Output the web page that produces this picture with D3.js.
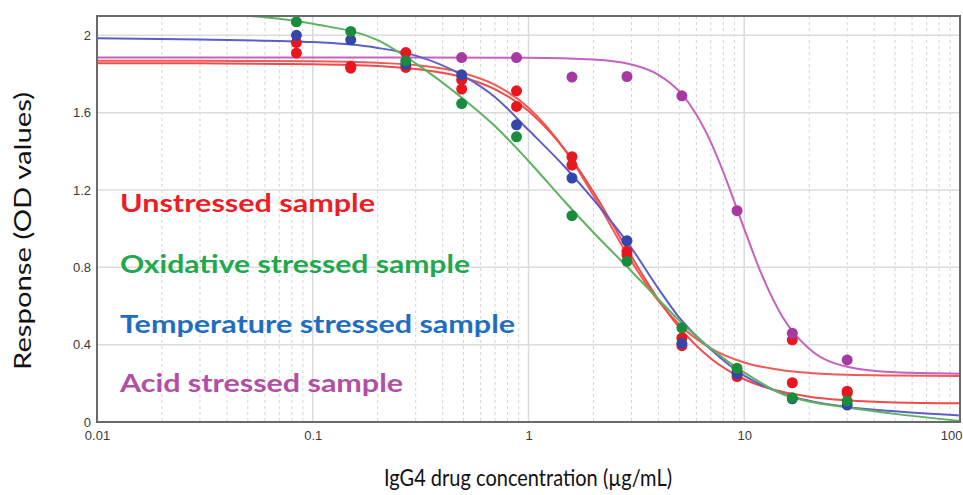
<!DOCTYPE html>
<html><head><meta charset="utf-8">
<script src="https://cdn.jsdelivr.net/npm/d3@7"></script>
<style>
html,body{margin:0;padding:0;background:#fff;}
svg{display:block;}
</style></head>
<body>
<svg id="chart" width="963" height="495"></svg>
<script>
// ---- Data ----
const concentrations = [0.084, 0.15, 0.27, 0.49, 0.88, 1.59, 2.86, 5.14, 9.26, 16.7, 30];
const unstressedRep1 = [1.963, 1.84, 1.911, 1.77, 1.713, 1.372, 0.883, 0.435, 0.26, 0.425, 0.159];
const unstressedRep2 = [1.908, 1.83, 1.834, 1.722, 1.632, 1.329, 0.865, 0.395, 0.235, 0.203, 0.15];
const oxidativePts   = [2.07, 2.02, 1.868, 1.647, 1.475, 1.067, 0.831, 0.487, 0.278, 0.125, 0.108];
const temperaturePts = [2.0, 1.977, 1.85, 1.796, 1.537, 1.262, 0.938, 0.407, 0.249, 0.12, 0.088];
const acidConc       = [0.49, 0.88, 1.59, 2.86, 5.14, 9.26, 16.7, 30];
const acidPts        = [1.885, 1.885, 1.784, 1.787, 1.687, 1.093, 0.459, 0.321];

// fitted curves
const fitConc      = [0.01, 0.03, 0.1, 0.2, 0.3, 0.5, 0.7, 1, 1.5, 2, 3, 4, 5, 7, 10, 15, 20, 30, 50, 100];
const unstressedFitA = [1.868, 1.868, 1.866, 1.858, 1.846, 1.804, 1.744, 1.626, 1.396, 1.171, 0.831, 0.626, 0.504, 0.381, 0.308, 0.268, 0.254, 0.244, 0.240, 0.238];
const unstressedFitB = [1.855, 1.855, 1.851, 1.842, 1.826, 1.782, 1.721, 1.609, 1.397, 1.190, 0.856, 0.634, 0.489, 0.328, 0.221, 0.156, 0.131, 0.112, 0.101, 0.097];
const oxidativeFit   = [2.16, 2.12, 2.06, 1.975, 1.855, 1.67, 1.53, 1.35, 1.13, 0.98, 0.78, 0.635, 0.525, 0.38, 0.256, 0.145, 0.106, 0.075, 0.042, 0.005];
const temperatureFit = [1.985, 1.978, 1.965, 1.935, 1.895, 1.79, 1.68, 1.51, 1.31, 1.15, 0.90, 0.69, 0.54, 0.375, 0.24, 0.148, 0.11, 0.078, 0.055, 0.034];
const acidFitConc    = [0.01, 0.1, 1, 2, 3, 4, 5, 6, 7, 8, 10, 12, 15, 20, 30, 50, 100];
const acidFit        = [1.885, 1.885, 1.884, 1.875, 1.849, 1.796, 1.710, 1.591, 1.448, 1.293, 0.999, 0.767, 0.546, 0.379, 0.286, 0.257, 0.25];

const yTicks = [0, 0.4, 0.8, 1.2, 1.6, 2];
const yTickLabels = ["0", "0.4", "0.8", "1.2", "1.6", "2"];
const xTicks = [0.01, 0.1, 1, 10, 100];
const xTickLabels = ["0.01", "0.1", "1", "10", "100"];
const legendLabels = ["Unstressed sample", "Oxidative stressed sample", "Temperature stressed sample", "Acid stressed sample"];

// ---- Layout ----
const svg = d3.select("#chart");
const L = 97, R = 960, T = 16, B = 422;
const x = d3.scaleLog().domain([0.01, 100]).range([L, R]);
const y = d3.scaleLinear().domain([0, 2.1]).range([B, T]);

svg.append("rect").attr("width", 963).attr("height", 495).attr("fill", "#fff");

svg.append("defs").append("clipPath").attr("id", "plotclip")
  .append("rect").attr("x", L).attr("y", T).attr("width", R - L).attr("height", B - T);

// grid
const grid = svg.append("g");
const minor = [];
[0.01, 0.1, 1, 10].forEach(d => { for (let k = 2; k <= 9; k++) minor.push(d * k); });
grid.selectAll(".minor").data(minor).join("line")
  .attr("x1", d => x(d)).attr("x2", d => x(d)).attr("y1", T).attr("y2", B)
  .attr("stroke", "#cfd6da").attr("stroke-width", 1).attr("stroke-dasharray", "3,3");
grid.selectAll(".major").data([0.1, 1, 10]).join("line")
  .attr("x1", d => x(d)).attr("x2", d => x(d)).attr("y1", T).attr("y2", B)
  .attr("stroke", "#d6dcdf").attr("stroke-width", 1.5);
grid.selectAll(".h").data(yTicks.slice(1)).join("line")
  .attr("x1", L).attr("x2", R).attr("y1", d => y(d)).attr("y2", d => y(d))
  .attr("stroke", "#dcdcdc").attr("stroke-width", 1.5);

// curves
const plot = svg.append("g").attr("clip-path", "url(#plotclip)");
const line = d3.line().x(d => x(d[0])).y(d => y(d[1])).curve(d3.curveMonotoneX);
const curves = [
  {xs: fitConc, ys: unstressedFitA, c: "#f25a55"},
  {xs: fitConc, ys: unstressedFitB, c: "#ef4b48"},
  {xs: acidFitConc, ys: acidFit, c: "#c462c0"},
  {xs: fitConc, ys: temperatureFit, c: "#5b5fc9"},
  {xs: fitConc, ys: oxidativeFit, c: "#5cb35f"}
];
curves.forEach(cv => {
  plot.append("path").datum(d3.zip(cv.xs, cv.ys)).attr("d", line)
    .attr("fill", "none").attr("stroke", cv.c).attr("stroke-width", 2);
});

// points
const pointSets = [
  {xs: concentrations, ys: unstressedRep1, c: "#e8161e"},
  {xs: concentrations, ys: unstressedRep2, c: "#e8161e"},
  {xs: acidConc, ys: acidPts, c: "#a63aa2"},
  {xs: concentrations, ys: temperaturePts, c: "#3446a8"},
  {xs: concentrations, ys: oxidativePts, c: "#1b8b3d"}
];
pointSets.forEach(ps => {
  plot.append("g").selectAll("circle").data(d3.zip(ps.xs, ps.ys)).join("circle")
    .attr("cx", d => x(d[0])).attr("cy", d => y(d[1])).attr("r", 5.5).attr("fill", ps.c);
});

// frame
svg.append("rect").attr("x", L).attr("y", T).attr("width", R - L).attr("height", B - T)
  .attr("fill", "none").attr("stroke", "#6a6a6a").attr("stroke-width", 2);

// axes
const yAxis = svg.append("g").attr("transform", `translate(${L - 6},0)`)
  .call(d3.axisLeft(y).tickValues(yTicks).tickSize(0).tickPadding(0)
    .tickFormat((d, i) => yTickLabels[i]));
yAxis.select(".domain").remove();
yAxis.selectAll("text").attr("font-family", "Liberation Sans, Arial, sans-serif")
  .attr("font-size", 13).attr("fill", "#3a3a3a");

const xAxis = svg.append("g").attr("transform", `translate(0,${B})`)
  .call(d3.axisBottom(x).tickValues(xTicks).tickSize(0).tickPadding(9)
    .tickFormat((d, i) => xTickLabels[i]));
xAxis.select(".domain").remove();
xAxis.selectAll("text").attr("font-family", "Liberation Sans, Arial, sans-serif")
  .attr("font-size", 13).attr("fill", "#3a3a3a");
// keep the last label inside the window
xAxis.selectAll(".tick").filter(d => d === 100).select("text")
  .attr("text-anchor", "end").attr("x", 962 - x(100));

// axis titles
svg.append("text").attr("x", 528).attr("y", 486).attr("text-anchor", "middle")
  .attr("font-family", "Lato, 'Open Sans', sans-serif").attr("font-size", 24).attr("fill", "#111")
  .attr("textLength", 288).attr("lengthAdjust", "spacingAndGlyphs")
  .text("IgG4 drug concentration (µg/mL)");
svg.append("text").attr("transform", "translate(31,231) rotate(-90)").attr("text-anchor", "middle")
  .attr("font-family", "Lato, 'Open Sans', sans-serif").attr("font-size", 23).attr("fill", "#111")
  .attr("textLength", 278).attr("lengthAdjust", "spacingAndGlyphs")
  .text("Response  (OD values)");

// legend labels
const legendColors = ["#ee1c24", "#1fa84c", "#1e6ec0", "#b14ea6"];
const legendY = [212, 273, 333, 392];
const legendW = [255, 350, 395, 283];
legendLabels.forEach((t, i) => {
  svg.append("text").attr("x", 120).attr("y", legendY[i])
    .attr("font-family", "Lato, 'Open Sans', sans-serif").attr("font-weight", "bold")
    .attr("font-size", 24).attr("fill", legendColors[i])
    .attr("textLength", legendW[i]).attr("lengthAdjust", "spacingAndGlyphs")
    .text(t);
});
</script>
</body></html>
